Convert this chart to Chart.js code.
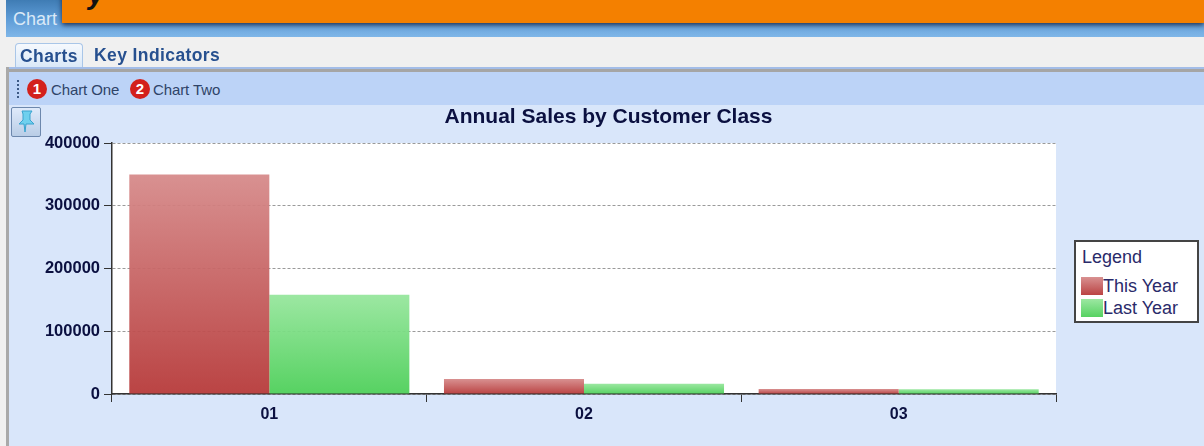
<!DOCTYPE html>
<html>
<head>
<meta charset="utf-8">
<title>Annual Sales by Customer Class</title>
<script src="https://cdn.jsdelivr.net/npm/chart.js@4"></script>
<style>
  html, body { margin: 0; padding: 0; }
  body { width: 1204px; height: 446px; overflow: hidden; position: relative; background: #f0f0f0;
         font-family: "Liberation Sans", Arial, sans-serif; filter: blur(0.45px); }
  .abs { position: absolute; }
  #titlebar { left: 6px; top: 0; width: 1198px; height: 37px; background: linear-gradient(#3f7cb4, #5d9bd6 50%, #7fb6e8); }
  #titlebar span { position: absolute; left: 7px; top: 9px; font-size: 18px; color: #dbe9f7; }
  #banner { left: 62px; top: -8px; width: 1142px; height: 31px; background: #f48000; box-shadow: 0 2px 5px rgba(10,20,50,.8); overflow: hidden; }
  #banner span { position: absolute; left: 26px; top: -13px; font: italic bold 28px "Liberation Sans"; color: #111; }
  .tab { top: 43px; height: 24px; font-weight: bold; font-size: 17.5px; color: #27508f; line-height: 24px; letter-spacing: .4px; }
  #tab1 { left: 15px; width: 66px; text-align: center; border: 1px solid #a9c6e8; border-bottom: none; border-radius: 4px 4px 0 0; background: linear-gradient(#f6f9fd, #d9e8f8); }
  #tab2 { left: 94px; }
  #rule { left: 6px; top: 67px; width: 1198px; height: 5px; background: linear-gradient(#a3bde8 40%, #a5a5a5 40%); }
  #panel { left: 9px; top: 72px; width: 1195px; height: 374px; background: #d9e6fa; }
  #edge { left: 6px; top: 67px; width: 3px; height: 379px; background: #a9a9a9; }
  #toolbar { left: 9px; top: 72px; width: 1195px; height: 33px; background: #bcd3f7; }
  #grip { left: 17px; top: 80px; height: 18px; border-left: 2px dotted #3d5a85; }
  .badge { top: 79px; width: 20px; height: 20px; border-radius: 50%; background: #d3201c; color: #fff; font-weight: bold; font-size: 15px; line-height: 20px; text-align: center; }
  .tool { top: 81px; font-size: 15px; color: #2f4468; letter-spacing: -.1px; }
  #pin { left: 11px; top: 107px; width: 28px; height: 28px; border: 1px solid #6d88ad; border-radius: 2px; background: linear-gradient(#dfeafa, #b9cde6); }
  #chart-wrap { left: 0; top: 105px; width: 1204px; height: 341px; }
  #legend { left: 1074px; top: 240px; width: 121px; height: 79px; background: #fff; border: 2px solid #444; color: #2a2a6a; font-size: 18px; }
  #legend .head { position: absolute; left: 6px; top: 5px; }
  .row { position: absolute; left: 5px; height: 20px; line-height: 20px; white-space: nowrap; }
  .row i { display: inline-block; width: 22px; height: 18px; vertical-align: -3px; }
</style>
</head>
<body>
<div class="abs" id="titlebar"><span>Chart</span></div>
<div class="abs" id="banner"><span>y</span></div>
<div class="abs tab" id="tab1">Charts</div>
<div class="abs tab" id="tab2">Key Indicators</div>
<div class="abs" id="rule"></div>
<div class="abs" id="panel"></div>
<div class="abs" id="edge"></div>
<div class="abs" id="toolbar"></div>
<div class="abs" id="grip"></div>
<div class="abs badge" style="left:27px">1</div>
<div class="abs tool" style="left:51px">Chart One</div>
<div class="abs badge" style="left:130px">2</div>
<div class="abs tool" style="left:153px">Chart Two</div>
<div class="abs" id="pin">
  <svg width="28" height="28" viewBox="0 0 28 28">
    <path d="M10 3h10l-2 3v6l4 4H14l-1 8-1-8H7l4-4V6z" fill="#6fd0ee" stroke="#3aa3cf" stroke-width="1"/>
  </svg>
</div>
<div class="abs" id="chart-wrap"><canvas id="chart"></canvas></div>
<div class="abs" id="legend"></div>

<script>
const categories = ['01', '02', '03'];
const thisYear = [350000, 24000, 8000];
const lastYear = [158000, 16500, 7500];
const seriesNames = ['This Year', 'Last Year'];
const yTicksMax = 400000;
const yTicksStep = 100000;

const redShades = ['rgba(214,138,138,.94)', 'rgba(182,56,56,.94)'];
const greenShades = ['rgba(150,230,156,.94)', 'rgba(76,207,88,.94)'];
const inkColor = '#0b1040';

// each bar gets its own top to bottom fade
const barFade = (shades) => (ctx) => {
  const { chart, parsed } = ctx;
  if (!parsed || !chart.scales.y) return shades[1];
  const y = chart.scales.y;
  const top = y.getPixelForValue(parsed.y);
  const bottom = y.getPixelForValue(0);
  if (!isFinite(top) || !isFinite(bottom)) return shades[1];
  const fade = chart.ctx.createLinearGradient(0, top, 0, bottom);
  fade.addColorStop(0, shades[0]);
  fade.addColorStop(1, shades[1]);
  return fade;
};

const plotBackground = {
  id: 'plotBackground',
  beforeDraw(chart) {
    const { ctx, chartArea: a } = chart;
    ctx.save();
    ctx.fillStyle = '#fff';
    ctx.fillRect(a.left, a.top, a.right - a.left, a.bottom - a.top);
    ctx.restore();
  },
  // title is centred on the panel, not on the plot
  afterLayout(chart) {
    chart.titleBlock.left = 13;
    chart.titleBlock.right = 1204;
  }
};

new Chart(document.getElementById('chart'), {
  type: 'bar',
  plugins: [plotBackground],
  data: {
    labels: categories,
    datasets: [
      { label: seriesNames[0], data: thisYear, backgroundColor: barFade(redShades) },
      { label: seriesNames[1], data: lastYear, backgroundColor: barFade(greenShades) }
    ]
  },
  options: {
    responsive: true,
    maintainAspectRatio: false,
    animation: false,
    categoryPercentage: 0.89,
    barPercentage: 1,
    layout: { padding: { left: 0, right: 148, top: 0, bottom: 0 } },
    plugins: {
      legend: { display: false },
      tooltip: { enabled: false },
      title: {
        display: true,
        text: 'Annual Sales by Customer Class',
        color: inkColor,
        font: { family: '"Liberation Sans"', size: 21, weight: 'bold' },
        padding: { top: 0, bottom: 12.8 }
      }
    },
    scales: {
      x: {
        afterFit(scale) { scale.height = 52; },
        offset: true,
        grid: { offset: true, drawOnChartArea: false, tickLength: 8, tickColor: '#333' },
        border: { color: '#333', width: 1.5 },
        ticks: { color: inkColor, padding: 3, font: { family: '"Liberation Sans"', size: 16, weight: 'bold' } }
      },
      y: {
        afterFit(scale) { scale.width = 112; },
        min: 0,
        max: yTicksMax,
        grid: { color: '#9a9a9a', tickColor: '#333', tickLength: 8, tickBorderDash: [] },
        border: { color: '#333', width: 1.5, dash: [3, 2] },
        ticks: {
          stepSize: yTicksStep,
          color: inkColor,
          padding: 4,
          font: { family: '"Liberation Sans"', size: 16.5, weight: 'bold' },
          callback: (value) => String(value)
        }
      }
    }
  }
});

// legend box, same names and fades as the bars
const legendBox = document.getElementById('legend');
const head = document.createElement('div');
head.className = 'head';
head.textContent = 'Legend';
legendBox.appendChild(head);
[redShades, greenShades].forEach((shades, i) => {
  const row = document.createElement('div');
  row.className = 'row';
  row.style.top = (34 + i * 22) + 'px';
  const swatch = document.createElement('i');
  swatch.style.background = `linear-gradient(${shades[0]}, ${shades[1]})`;
  row.appendChild(swatch);
  row.appendChild(document.createTextNode(seriesNames[i]));
  legendBox.appendChild(row);
});
</script>
</body>
</html>
